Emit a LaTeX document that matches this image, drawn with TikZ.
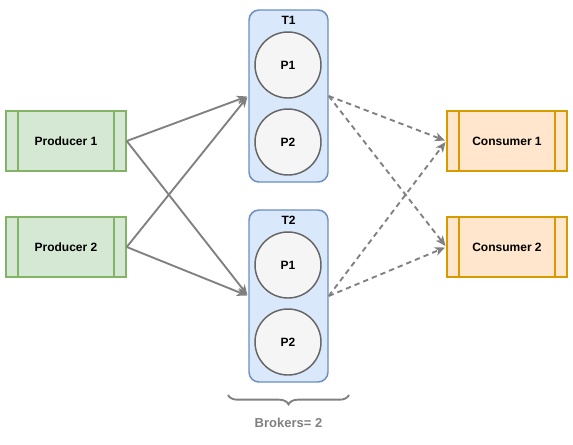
\documentclass[tikz,border=0pt]{standalone}
\usepackage{fontspec}
\setmainfont{Liberation Sans}
\usetikzlibrary{positioning,arrows.meta,decorations.pathreplacing}
\definecolor{grnfill}{HTML}{D5E8D4}
\definecolor{grnline}{HTML}{82B366}
\definecolor{bluefill}{HTML}{DAE8FC}
\definecolor{blueline}{HTML}{6C8EBF}
\definecolor{orgfill}{HTML}{FFE6CC}
\definecolor{orgline}{HTML}{D79B00}
\definecolor{partfill}{HTML}{F5F5F5}
\definecolor{partline}{HTML}{666666}
\definecolor{arrgray}{HTML}{808080}

\begin{document}
\begin{tikzpicture}[x=0.75pt, y=-0.75pt,
  client/.style={draw=#1line, fill=#1fill, line width=1.1pt, rectangle,
                 minimum width=90pt, minimum height=45pt, inner sep=0pt,
                 font=\small\bfseries,
                 path picture={
                   \draw[#1line, line width=1.1pt]
                     ([xshift=9pt]path picture bounding box.north west) --
                     ([xshift=9pt]path picture bounding box.south west)
                     ([xshift=-9pt]path picture bounding box.north east) --
                     ([xshift=-9pt]path picture bounding box.south east);}},
  topic/.style={draw=blueline, fill=bluefill, line width=1.1pt, rectangle,
                rounded corners=7.5pt, minimum width=59.25pt, minimum height=129pt},
  tname/.style={font=\small\bfseries, inner sep=0pt},
  part/.style={draw=partline, fill=partfill, line width=1.1pt, circle,
               minimum size=49.5pt, inner sep=0pt, font=\small\bfseries},
  ar/.style={-{Stealth[length=7.5pt,width=6.5pt,inset=2pt]}, draw=arrgray,
             line width=1.4pt, shorten >=1pt},
  dar/.style={ar, dash pattern=on 4pt off 3pt},
]
\useasboundingbox (0,0) rectangle (573,444);

% producers
\node[client=grn] (prod1) at (66,141) {Producer 1};
\node[client=grn] (prod2) at (66,247) {Producer 2};

% topics with partitions
\node[topic] (t1) at (288.5,96) {};
\node[tname] (t1name) at (288.5,20) {T1};
\node[part] (t1p1) at (288,65) {P1};
\node[part] (t1p2) at (288,142) {P2};

\node[topic] (t2) at (288.5,296) {};
\node[tname] (t2name) at (288.5,220) {T2};
\node[part] (t2p1) at (288,265) {P1};
\node[part] (t2p2) at (288,342) {P2};

% consumers
\node[client=org] (cons1) at (507,141) {Consumer 1};
\node[client=org] (cons2) at (507,247) {Consumer 2};

\draw[ar] (prod1.east) -- (t1.west);
\draw[ar] (prod1.east) -- (t2.west);
\draw[ar] (prod2.east) -- (t1.west);
\draw[ar] (prod2.east) -- (t2.west);

\draw[dar] (t1.east) -- (cons1.west);
\draw[dar] (t1.east) -- (cons2.west);
\draw[dar] (t2.east) -- (cons1.west);
\draw[dar] (t2.east) -- (cons2.west);

% brokers
\coordinate (brl) at (228,395);
\coordinate (brr) at (349,395);
\draw[arrgray, line width=1.4pt, decorate,
      decoration={brace, mirror, amplitude=7pt}] (brl) -- (brr);
\node[text=arrgray, font=\fontsize{9.75}{12}\selectfont\bfseries] (brokers)
  at (288.5,423) {Brokers= 2};
\end{tikzpicture}
\end{document}
